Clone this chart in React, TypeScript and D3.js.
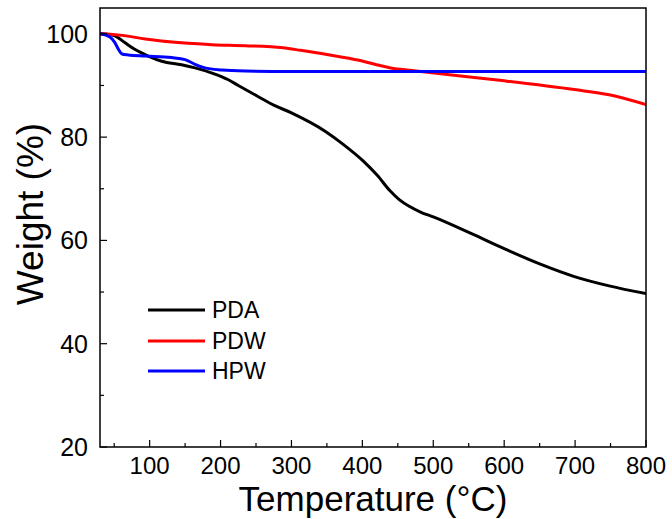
import React from "react";
import * as d3 from "d3";

const pdaT = [30, 40, 51, 65, 79, 98, 117, 145, 164, 188, 211, 225, 251, 275, 300, 348, 373, 401, 421, 439, 452, 466, 482, 501, 554, 600, 651, 699, 748, 800];
const pdaW = [100, 99.9, 99.6, 98.3, 97.0, 95.7, 94.7, 94.0, 93.4, 92.4, 91.1, 90.0, 88.0, 86.2, 84.7, 81.1, 78.6, 75.4, 72.6, 69.6, 67.9, 66.6, 65.5, 64.5, 61.3, 58.4, 55.4, 53.0, 51.2, 49.7];

const pdwT = [30, 61, 94, 140, 188, 235, 288, 313, 362, 401, 420, 440, 470, 501, 600, 699, 748, 800];
const pdwW = [100, 99.7, 99.0, 98.3, 97.9, 97.7, 97.3, 96.8, 95.7, 94.7, 94.0, 93.4, 92.9, 92.4, 90.9, 89.2, 88.2, 86.3];

const hpwT = [30, 44, 51, 56, 61, 70, 94, 131, 150, 164, 178, 202, 235, 300, 400, 500, 600, 700, 800];
const hpwW = [100, 99.4, 98.3, 97.0, 96.1, 95.9, 95.7, 95.4, 95.0, 94.1, 93.4, 93.0, 92.8, 92.7, 92.7, 92.7, 92.7, 92.7, 92.7];

const seriesNames = ["PDA", "PDW", "HPW"];
const seriesColors = ["#000000", "#ff0000", "#0000ff"];

const xTicks = [100, 200, 300, 400, 500, 600, 700, 800];
const xMinorTicks = [50, 150, 250, 350, 450, 550, 650, 750];
const yTicks = [20, 40, 60, 80, 100];
const yMinorTicks = [30, 50, 70, 90];

const W = 672;
const H = 519;
const L = 100, R = 646, T = 8, B = 447;
const FONT = "'Liberation Sans', Arial, sans-serif";

export default function App() {
  const x = d3.scaleLinear().domain([30, 800]).range([L, R]);
  const y = d3.scaleLinear().domain([20, 105]).range([B, T]);
  const line = d3
    .line<[number, number]>()
    .x((d) => x(d[0]))
    .y((d) => y(d[1]))
    .curve(d3.curveMonotoneX);

  const series = [
    pdaT.map((t, i) => [t, pdaW[i]] as [number, number]),
    pdwT.map((t, i) => [t, pdwW[i]] as [number, number]),
    hpwT.map((t, i) => [t, hpwW[i]] as [number, number]),
  ];
  const drawOrder = [0, 1, 2];

  return (
    <svg
      width={W}
      height={H}
      style={{ position: "absolute", left: 0, top: 0, background: "#fff" }}
      fontFamily={FONT}
    >
      <rect x={0} y={0} width={W} height={H} fill="#fff" />
      <defs>
        <clipPath id="plotclip">
          <rect x={L} y={T} width={R - L} height={B - T} />
        </clipPath>
      </defs>
      <g clipPath="url(#plotclip)">
        {drawOrder.map((i) => (
          <path
            key={i}
            d={line(series[i]) || ""}
            fill="none"
            stroke={seriesColors[i]}
            strokeWidth={3}
            strokeLinejoin="round"
          />
        ))}
      </g>
      <rect x={L} y={T} width={R - L} height={B - T} fill="none" stroke="#000" strokeWidth={1.5} />
      {xTicks.map((t) => (
        <g key={"xt" + t}>
          <line x1={x(t)} x2={x(t)} y1={B} y2={B - 7} stroke="#000" strokeWidth={1.2} />
          <text x={x(t)} y={474} textAnchor="middle" fontSize={24}>
            {t}
          </text>
        </g>
      ))}
      {xMinorTicks.map((t) => (
        <line key={"xm" + t} x1={x(t)} x2={x(t)} y1={B} y2={B - 4} stroke="#000" strokeWidth={1.2} />
      ))}
      {yTicks.map((v) => (
        <g key={"yt" + v}>
          <line x1={L} x2={L + 7} y1={y(v)} y2={y(v)} stroke="#000" strokeWidth={1.2} />
          <text x={88} y={y(v)} dy="0.36em" textAnchor="end" fontSize={25}>
            {v}
          </text>
        </g>
      ))}
      {yMinorTicks.map((v) => (
        <line key={"ym" + v} x1={L} x2={L + 4} y1={y(v)} y2={y(v)} stroke="#000" strokeWidth={1.2} />
      ))}
      <text x={(L + R) / 2} y={511} textAnchor="middle" fontSize={35}>
        Temperature (°C)
      </text>
      <text transform={`translate(43, 214) rotate(-90)`} textAnchor="middle" fontSize={37}>
        Weight (%)
      </text>
      {seriesNames.map((n, i) => {
        const ly = [310, 341, 371][i];
        return (
          <g key={n}>
            <line x1={148} x2={205} y1={ly} y2={ly} stroke={seriesColors[i]} strokeWidth={3} />
            <text x={212} y={ly} dy="0.36em" fontSize={23}>
              {n}
            </text>
          </g>
        );
      })}
    </svg>
  );
}
